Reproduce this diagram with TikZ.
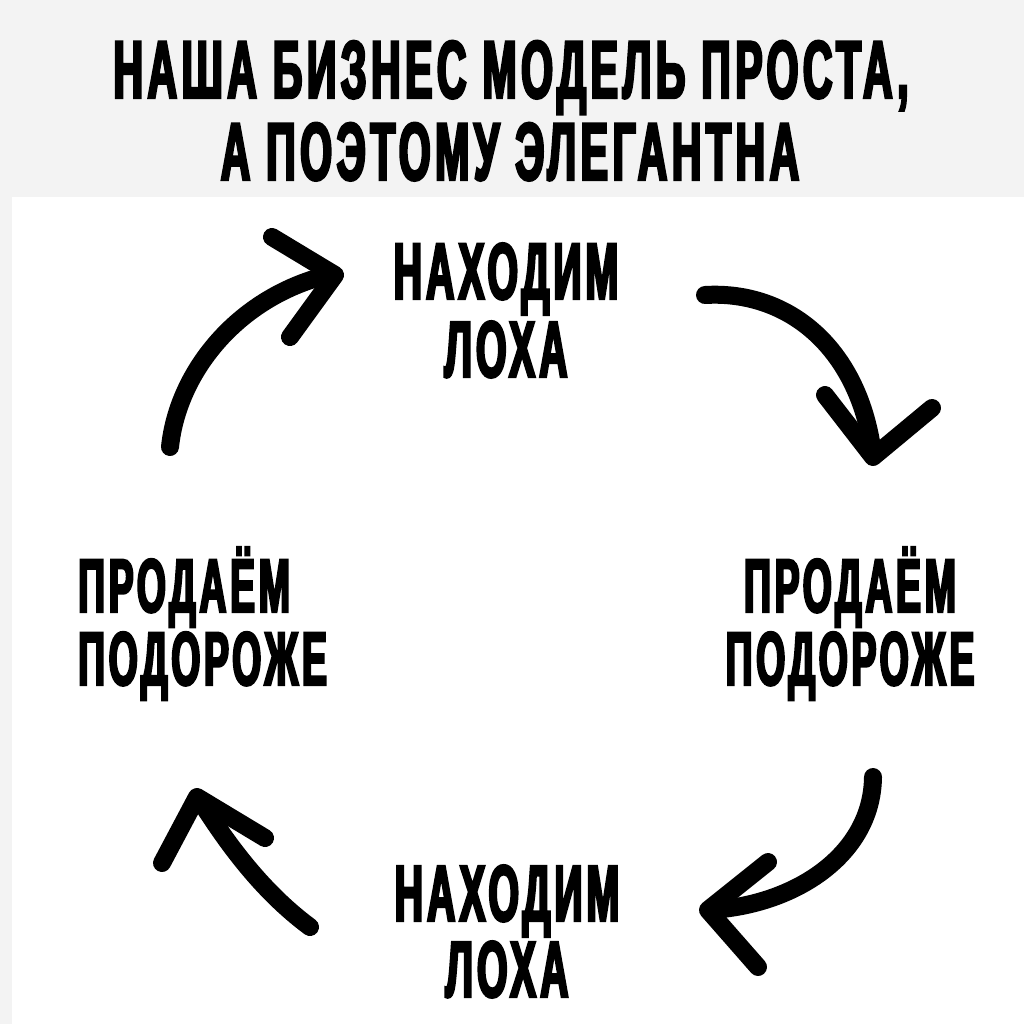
\documentclass[tikz,border=0pt]{standalone}
\usepackage{fontspec}
\newfontfamily\memefont[FakeStretch=0.49,FakeBold=3,LetterSpace=5]{Liberation Sans}
\newfontfamily\headfont[FakeStretch=0.50,FakeBold=3,LetterSpace=5.5]{Liberation Sans}
\usetikzlibrary{positioning}

\definecolor{paper}{RGB}{243,243,243}

\tikzset{
  headline/.style={inner sep=0pt, anchor=base,
    font=\headfont\bfseries\fontsize{82}{82}\selectfont},
  caption/.style={inner sep=0pt, anchor=base,
    font=\memefont\bfseries\fontsize{80}{80}\selectfont},
  sidecaption/.style={inner sep=0pt, anchor=base,
    font=\memefont\bfseries\fontsize{76}{76}\selectfont},
  stroke/.style={line width=18pt, line cap=round, line join=round}
}

\begin{document}
\begin{tikzpicture}[x=1pt, y=-1pt]

    % ------------------ Layout ------------------
    \def\pageSize{1024}
    \def\headH{197}
    \def\strip{12}

    % ------------------ Background ------------------
    \fill[paper] (0,0) rectangle (\pageSize,\pageSize);
    \fill[white] (\strip,\headH) rectangle (\pageSize,\pageSize);
    \useasboundingbox (0,0) rectangle (\pageSize,\pageSize);

    % ------------------ Headline ------------------
    \node[headline] (head1) at (511,98) {НАША БИЗНЕС МОДЕЛЬ ПРОСТА,};
    \node[headline] (head2) at (510,180) {А ПОЭТОМУ ЭЛЕГАНТНА};

    % ------------------ Cycle captions ------------------
    \node[caption] (find1) at (506,299) {НАХОДИМ};
    \node[caption] (loh1) at (506,377) {ЛОХА};

    \node[sidecaption, anchor=base west] (sellL1) at (78,612) {ПРОДАЁМ};
    \node[sidecaption, anchor=base west] (sellL2) at (78,685) {ПОДОРОЖЕ};

    \node[sidecaption] (sellR1) at (850,612) {ПРОДАЁМ};
    \node[sidecaption] (sellR2) at (850,685) {ПОДОРОЖЕ};

    \node[caption] (find2) at (507,921) {НАХОДИМ};
    \node[caption] (loh2) at (507,997) {ЛОХА};

    % ------------------ Hand drawn arrows ------------------
    % up, towards the first caption
    \draw[stroke] (170,447) .. controls (178,370) and (240,295) .. (332,274);
    \draw[stroke] (272,237) -- (335,275) -- (290,337);

    % down, to the right captions
    \draw[stroke] (705,295) .. controls (790,290) and (860,350) .. (873,455);
    \draw[stroke] (825,395) -- (873,457) -- (932,408);

    % down-left, to the second caption
    \draw[stroke] (873,777) .. controls (872,855) and (795,905) .. (710,910);
    \draw[stroke] (768,862) -- (708,910) -- (758,967);

    % up-left, back to the left captions
    \draw[stroke] (310,927) .. controls (260,890) and (225,840) .. (199,799);
    \draw[stroke] (162,863) -- (197,797) -- (265,838);

  \end{tikzpicture}
\end{document}
